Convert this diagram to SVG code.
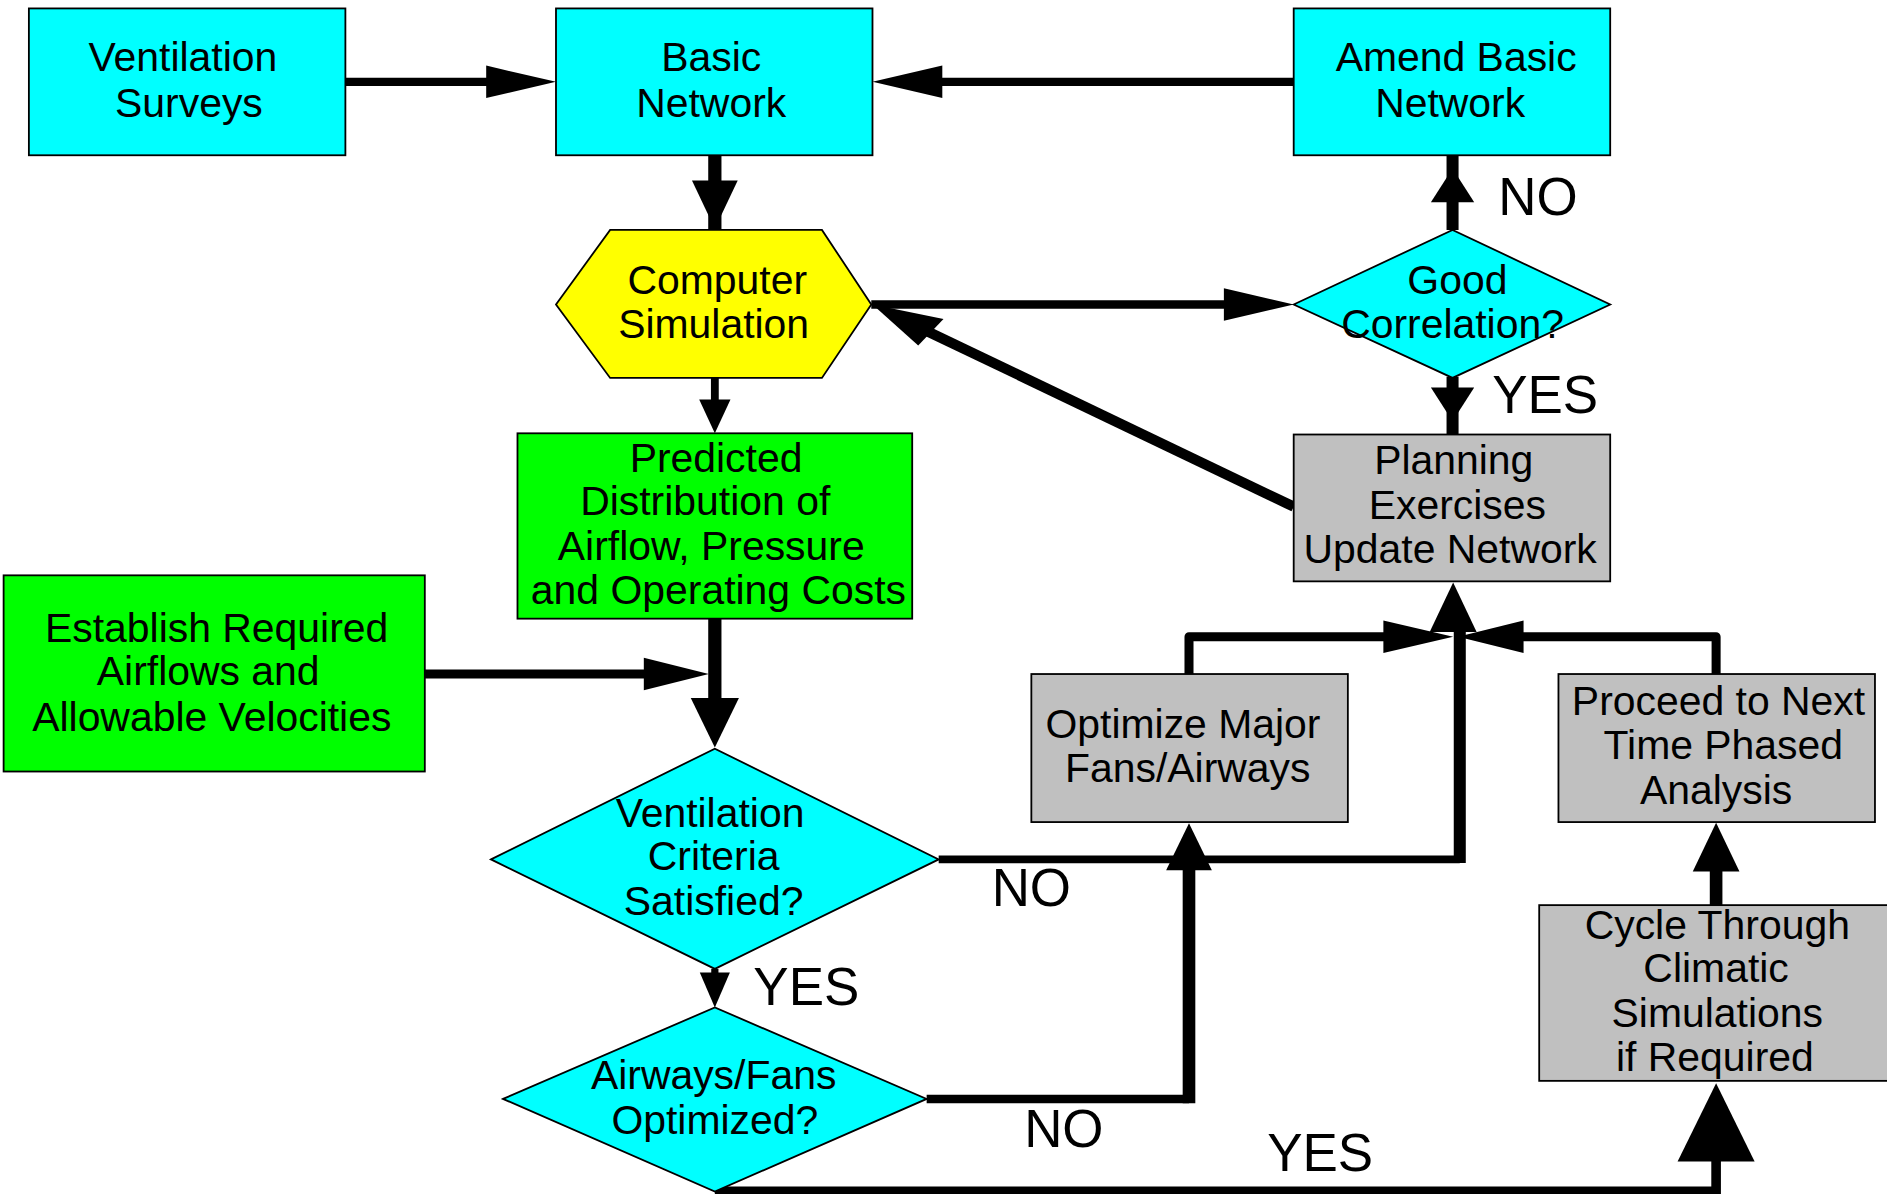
<svg xmlns="http://www.w3.org/2000/svg" width="1887" height="1194" viewBox="0 0 1887 1194">
<style>
.n{stroke:#000;stroke-width:1.5}
.cy{fill:#00FFFF}.ye{fill:#FFFF00}.gr{fill:#00FF00}.gy{fill:#C0C0C0}
text{font-family:"Liberation Sans",Arial,sans-serif;fill:#000;text-anchor:middle}
.t{font-size:34px}
.lb{font-size:44px}
.c{stroke:#000;fill:none;stroke-linejoin:round;stroke-linecap:butt}
.ah{fill:#000;stroke:none}
</style>
<rect width="1887" height="1194" fill="#fff"/>
<g transform="scale(1.20344,1.20363)">
<g id="connectors">
<line class="c" x1="287" y1="68" x2="410" y2="68" stroke-width="7"/>
<polygon class="ah" points="462,68 404,54.5 404,81.5"/>
<line class="c" x1="1075" y1="68" x2="778" y2="68" stroke-width="7"/>
<polygon class="ah" points="725,68 783,54.5 783,81.5"/>
<line class="c" x1="594" y1="129" x2="594" y2="191" stroke-width="11"/>
<polygon class="ah" points="594,190 575,150 613,150"/>
<line class="c" x1="724" y1="253" x2="1020" y2="253" stroke-width="7"/>
<polygon class="ah" points="1075,253 1017,239.5 1017,266.5"/>
<line class="c" x1="1207" y1="191" x2="1207" y2="129" stroke-width="10"/>
<polygon class="ah" points="1207,140 1189,168 1225,168"/>
<line class="c" x1="1207" y1="313" x2="1207" y2="361" stroke-width="10"/>
<polygon class="ah" points="1207,350 1189,322 1225,322"/>
<line class="c" x1="1075" y1="421" x2="768" y2="274" stroke-width="8.5"/>
<polygon class="ah" points="725,253 784,265 763,287"/>
<line class="c" x1="594" y1="314" x2="594" y2="345" stroke-width="6.5"/>
<polygon class="ah" points="594,360 581,332 607,332"/>
<line class="c" x1="353" y1="560" x2="540" y2="560" stroke-width="7.5"/>
<polygon class="ah" points="589,560 535,546.5 535,573.5"/>
<line class="c" x1="594" y1="514" x2="594" y2="590" stroke-width="11"/>
<polygon class="ah" points="594,621 574,580 614,580"/>
<line class="c" x1="594" y1="805" x2="594" y2="815" stroke-width="6"/>
<polygon class="ah" points="594,837 581.5,808 606.5,808"/>
<path class="c" d="M780,714 H1213" stroke-width="6.5"/>
<line class="c" x1="1213" y1="717" x2="1213" y2="525" stroke-width="10"/>
<polygon class="ah" points="1207.5,484 1188,525 1227,525"/>
<path class="c" d="M770,913 H988" stroke-width="7"/>
<line class="c" x1="988" y1="916.5" x2="988" y2="718" stroke-width="10.5"/>
<polygon class="ah" points="988,684 969,723 1007,723"/>
<path class="c" d="M988,560 V529 H1155" stroke-width="7.5"/>
<polygon class="ah" points="1207.5,529 1149.5,515.5 1149.5,542.5"/>
<path class="c" d="M1426,560 V529 H1260" stroke-width="7.5"/>
<polygon class="ah" points="1211.5,529 1266,515.5 1266,542.5"/>
<line class="c" x1="1426" y1="752" x2="1426" y2="720" stroke-width="10.5"/>
<polygon class="ah" points="1426,683.6 1406.6,724 1445.4,724"/>
<path class="c" d="M594,989 H1426" stroke-width="6.5"/>
<line class="c" x1="1426" y1="993" x2="1426" y2="960" stroke-width="8"/>
<polygon class="ah" points="1426,900 1394,965 1458,965"/>
</g>
<g id="n-ventilation-surveys">
<rect class="n cy" x="24" y="7" width="263" height="122"/>
<text class="t" x="152" y="59">Ventilation</text>
<text class="t" x="157" y="97">Surveys</text>
</g>
<g id="n-basic-network">
<rect class="n cy" x="462" y="7" width="263" height="122"/>
<text class="t" x="591" y="59">Basic</text>
<text class="t" x="591" y="97">Network</text>
</g>
<g id="n-amend-basic-network">
<rect class="n cy" x="1075" y="7" width="263" height="122"/>
<text class="t" x="1210" y="59">Amend Basic</text>
<text class="t" x="1205" y="97">Network</text>
</g>
<g id="n-computer-simulation">
<polygon class="n ye" points="462,253 507,191 683,191 724,253 683,314 507,314"/>
<text class="t" x="596" y="244">Computer</text>
<text class="t" x="593" y="281">Simulation</text>
</g>
<g id="n-good-correlation">
<polygon class="n cy" points="1075,253 1207,191 1338,253 1207,314"/>
<text class="t" x="1211" y="244">Good</text>
<text class="t" x="1207" y="281">Correlation?</text>
</g>
<g id="n-planning">
<rect class="n gy" x="1075" y="361" width="263" height="122"/>
<text class="t" x="1208" y="394">Planning</text>
<text class="t" x="1211" y="431">Exercises</text>
<text class="t" x="1205" y="468">Update Network</text>
</g>
<g id="n-predicted">
<rect class="n gr" x="430" y="360" width="328" height="154"/>
<text class="t" x="595" y="392">Predicted</text>
<text class="t" x="586" y="428">Distribution of</text>
<text class="t" x="591" y="465">Airflow, Pressure</text>
<text class="t" x="597" y="502">and Operating Costs</text>
</g>
<g id="n-establish">
<rect class="n gr" x="3" y="478" width="350" height="163"/>
<text class="t" x="180" y="533">Establish Required</text>
<text class="t" x="173" y="569">Airflows and</text>
<text class="t" x="176" y="607">Allowable Velocities</text>
</g>
<g id="n-ventilation-criteria">
<polygon class="n cy" points="408,714 594,622 780,714 594,805"/>
<text class="t" x="590" y="687">Ventilation</text>
<text class="t" x="593" y="723">Criteria</text>
<text class="t" x="593" y="760">Satisfied?</text>
</g>
<g id="n-airways-fans">
<polygon class="n cy" points="418,913 594,837 770,913 594,990"/>
<text class="t" x="593" y="905">Airways/Fans</text>
<text class="t" x="594" y="942">Optimized?</text>
</g>
<g id="n-optimize">
<rect class="n gy" x="857" y="560" width="263" height="123"/>
<text class="t" x="983" y="613">Optimize Major</text>
<text class="t" x="987" y="650">Fans/Airways</text>
</g>
<g id="n-proceed">
<rect class="n gy" x="1295" y="560" width="263" height="123"/>
<text class="t" x="1428" y="594">Proceed to Next</text>
<text class="t" x="1432" y="631">Time Phased</text>
<text class="t" x="1426" y="668">Analysis</text>
</g>
<g id="n-cycle">
<rect class="n gy" x="1279" y="752" width="292" height="146"/>
<text class="t" x="1427" y="780">Cycle Through</text>
<text class="t" x="1426" y="816">Climatic</text>
<text class="t" x="1427" y="853">Simulations</text>
<text class="t" x="1425" y="890">if Required</text>
</g>
<g id="labels">
<text class="lb" x="1278" y="179">NO</text>
<text class="lb" x="1284" y="343">YES</text>
<text class="lb" x="857" y="753">NO</text>
<text class="lb" x="670" y="835">YES</text>
<text class="lb" x="884" y="953">NO</text>
<text class="lb" x="1097" y="973">YES</text>
</g>
</g>
</svg>
